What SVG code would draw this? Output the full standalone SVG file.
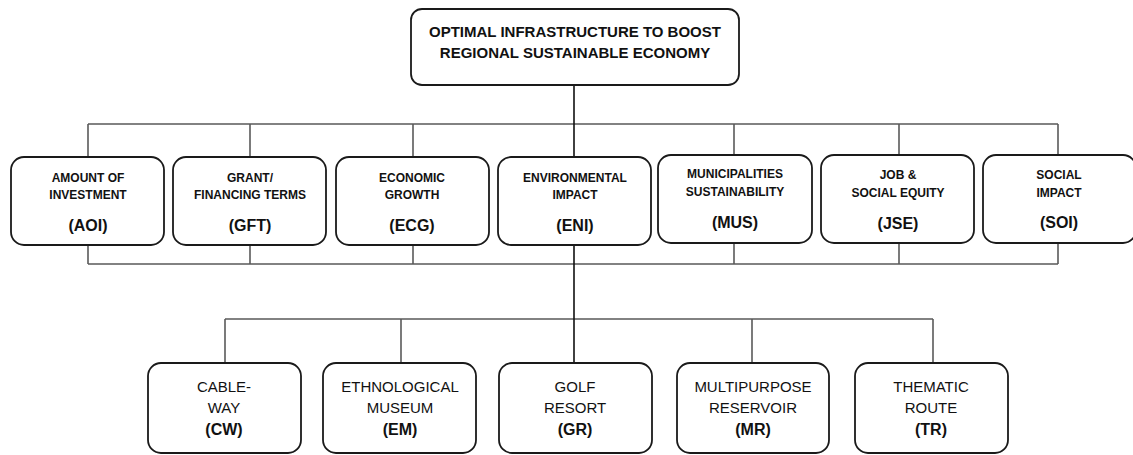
<svg xmlns="http://www.w3.org/2000/svg" width="1133" height="455" viewBox="0 0 1133 455">
<style>
.box{fill:#fff;stroke:#1a1a1a;stroke-width:1.8}
.c{fill:none;stroke:#5a5a5a;stroke-width:1.6}
.ck{fill:none;stroke:#111;stroke-width:1.6}
text{font-family:"Liberation Sans",Arial,sans-serif;text-anchor:middle;fill:#111}
.t{font-size:15px;font-weight:bold}
.m{font-size:12px;font-weight:bold}
.mc{font-size:16px;font-weight:bold}
.b{font-size:15px}
.bc{font-size:16px;font-weight:bold}
</style>
<rect width="1133" height="455" fill="#fff"/>
<g id="connectors">
<path class="c" d="M88 124H1058M88 124V156M250 124V156M413 124V156M734 124V155M899 124V155M1058 124V155"/>
<path class="c" d="M88 264H1058M88 245V264M250 245V264M413 245V264M734 243V264M899 243V264M1058 243V264"/>
<path class="c" d="M225 319H933M225 319V363M401 319V363M752 319V363M933 319V363"/>
<path class="ck" d="M574 85V363"/>
</g>
<g id="root"><rect class="box" x="411" y="9" width="328" height="76" rx="11"/>
<text class="t" x="575" y="37">OPTIMAL INFRASTRUCTURE TO BOOST</text>
<text class="t" x="575" y="58">REGIONAL SUSTAINABLE ECONOMY</text></g>
<g id="AOI"><rect class="box" x="11" y="157" width="153" height="88" rx="13"/>
<text class="m" x="88" y="182">AMOUNT OF</text><text class="m" x="88" y="199">INVESTMENT</text><text class="mc" x="88" y="231">(AOI)</text></g>
<g id="GFT"><rect class="box" x="173" y="157" width="153" height="88" rx="13"/>
<text class="m" x="250" y="182">GRANT/</text><text class="m" x="250" y="199">FINANCING TERMS</text><text class="mc" x="250" y="231">(GFT)</text></g>
<g id="ECG"><rect class="box" x="336" y="157" width="153" height="88" rx="13"/>
<text class="m" x="412" y="182">ECONOMIC</text><text class="m" x="412" y="199">GROWTH</text><text class="mc" x="412" y="231">(ECG)</text></g>
<g id="ENI"><rect class="box" x="498" y="157" width="153" height="88" rx="13"/>
<text class="m" x="575" y="182">ENVIRONMENTAL</text><text class="m" x="575" y="199">IMPACT</text><text class="mc" x="575" y="231">(ENI)</text></g>
<g id="MUS"><rect class="box" x="658" y="155" width="154" height="88" rx="13"/>
<text class="m" x="735" y="178">MUNICIPALITIES</text><text class="m" x="735" y="196">SUSTAINABILITY</text><text class="mc" x="735" y="228">(MUS)</text></g>
<g id="JSE"><rect class="box" x="821" y="155" width="153" height="88" rx="13"/>
<text class="m" x="898" y="179">JOB &amp;</text><text class="m" x="898" y="197">SOCIAL EQUITY</text><text class="mc" x="898" y="229">(JSE)</text></g>
<g id="SOI"><rect class="box" x="983" y="155" width="153" height="88" rx="13"/>
<text class="m" x="1059" y="179">SOCIAL</text><text class="m" x="1059" y="197">IMPACT</text><text class="mc" x="1059" y="228">(SOI)</text></g>
<g id="CW"><rect class="box" x="148" y="363" width="153" height="90" rx="13"/>
<text class="b" x="224" y="392">CABLE-</text><text class="b" x="224" y="413">WAY</text><text class="bc" x="224" y="435">(CW)</text></g>
<g id="EM"><rect class="box" x="323" y="363" width="153" height="90" rx="13"/>
<text class="b" x="400" y="392">ETHNOLOGICAL</text><text class="b" x="400" y="413">MUSEUM</text><text class="bc" x="400" y="435">(EM)</text></g>
<g id="GR"><rect class="box" x="499" y="363" width="153" height="90" rx="13"/>
<text class="b" x="575" y="392">GOLF</text><text class="b" x="575" y="413">RESORT</text><text class="bc" x="575" y="435">(GR)</text></g>
<g id="MR"><rect class="box" x="677" y="363" width="152" height="90" rx="13"/>
<text class="b" x="753" y="392">MULTIPURPOSE</text><text class="b" x="753" y="413">RESERVOIR</text><text class="bc" x="753" y="435">(MR)</text></g>
<g id="TR"><rect class="box" x="855" y="363" width="153" height="90" rx="13"/>
<text class="b" x="931" y="392">THEMATIC</text><text class="b" x="931" y="413">ROUTE</text><text class="bc" x="931" y="435">(TR)</text></g>
</svg>
